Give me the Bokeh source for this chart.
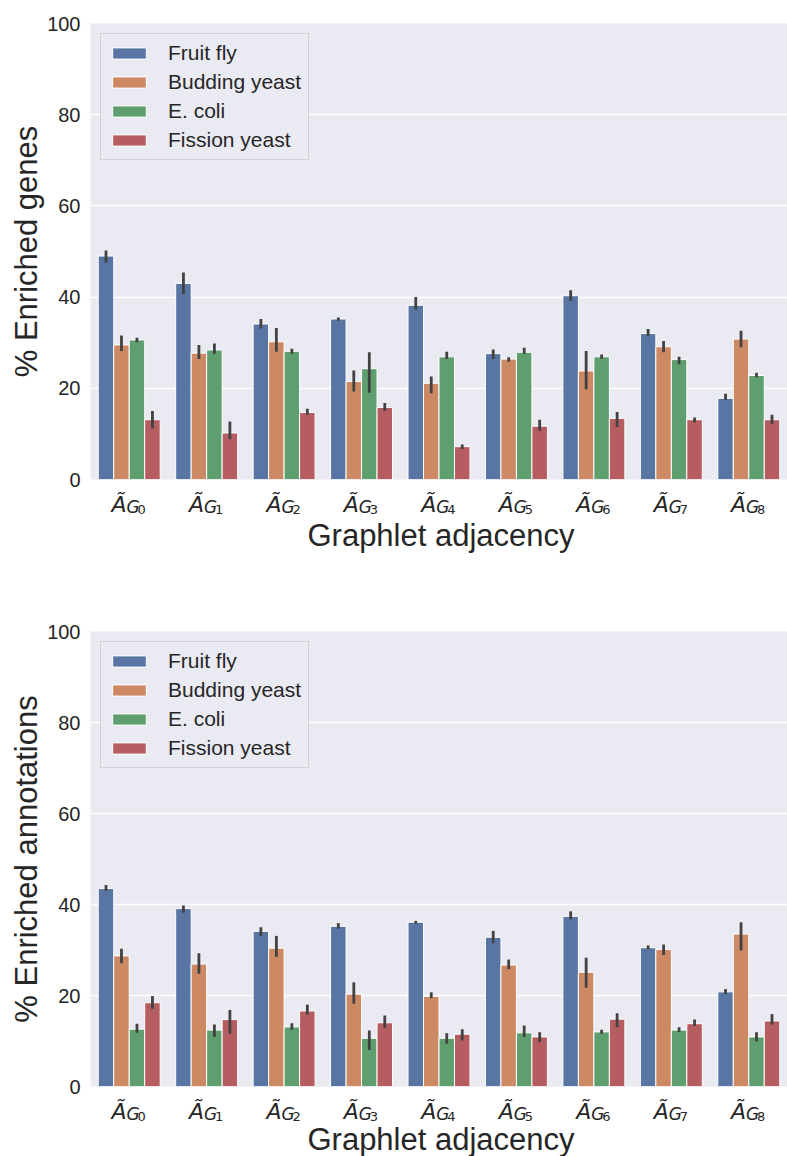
from bokeh.plotting import figure
from bokeh.models import ColumnDataSource, Range1d, Legend, LegendItem
from bokeh.core.properties import value
from bokeh.layouts import column
from bokeh.transform import dodge
from bokeh.embed import file_html
from bokeh.resources import INLINE

# ---------------- data ----------------
cat_index = [0, 1, 2, 3, 4, 5, 6, 7, 8]
subscripts = ["0", "1", "2", "3", "4", "5", "6", "7", "8"]
species = ["Fruit fly", "Budding yeast", "E. coli", "Fission yeast"]
yticks = [0, 20, 40, 60, 80, 100]
xlabel = "Graphlet adjacency"

# top panel: % enriched genes
genes_ff = [49.0, 43.0, 34.1, 35.2, 38.2, 27.6, 40.3, 32.0, 17.8]
genes_ff_lo = [47.6, 40.6, 33.1, 34.8, 37.2, 26.4, 39.2, 31.4, 17.4]
genes_ff_hi = [50.2, 45.4, 35.2, 35.5, 40.0, 28.5, 41.5, 33.0, 18.8]
genes_by = [29.5, 27.7, 30.2, 21.5, 21.1, 26.4, 23.8, 29.1, 30.8]
genes_by_lo = [28.2, 26.4, 28.0, 19.3, 18.9, 25.8, 19.8, 27.9, 29.0]
genes_by_hi = [31.6, 29.5, 33.2, 23.9, 22.6, 26.8, 28.2, 30.4, 32.6]
genes_ec = [30.6, 28.4, 28.1, 24.3, 26.9, 27.9, 26.9, 26.3, 22.8]
genes_ec_lo = [30.1, 27.6, 27.6, 19.0, 26.4, 27.5, 26.5, 25.3, 22.4]
genes_ec_hi = [31.1, 29.8, 28.7, 27.9, 28.0, 28.9, 27.4, 26.9, 23.4]
genes_fs = [13.1, 10.2, 14.7, 15.8, 7.2, 11.7, 13.4, 13.1, 13.1]
genes_fs_lo = [11.2, 8.8, 14.2, 15.0, 6.7, 10.7, 11.5, 12.5, 12.2]
genes_fs_hi = [15.0, 12.7, 15.5, 16.8, 7.7, 13.1, 14.8, 13.6, 14.2]

# bottom panel: % enriched annotations
annot_ff = [43.5, 39.1, 34.1, 35.2, 36.1, 32.8, 37.4, 30.5, 20.8]
annot_ff_lo = [43.0, 38.2, 33.1, 34.7, 35.8, 31.5, 36.7, 30.2, 20.3]
annot_ff_hi = [44.3, 39.8, 35.0, 35.9, 36.4, 34.2, 38.5, 31.0, 21.4]
annot_by = [28.7, 26.9, 30.4, 20.3, 19.8, 26.7, 25.1, 30.1, 33.5]
annot_by_lo = [27.1, 24.8, 28.5, 18.2, 19.4, 25.8, 21.7, 28.9, 29.9]
annot_by_hi = [30.3, 29.3, 33.1, 22.9, 20.7, 27.9, 28.3, 31.2, 36.1]
annot_ec = [12.6, 12.4, 13.1, 10.6, 10.6, 11.8, 12.0, 12.4, 10.9]
annot_ec_lo = [11.8, 10.9, 12.5, 8.0, 9.4, 10.9, 11.6, 12.0, 9.9]
annot_ec_hi = [13.8, 13.6, 13.9, 12.3, 11.7, 13.4, 12.5, 13.0, 11.9]
annot_fs = [18.4, 14.7, 16.6, 14.0, 11.5, 10.9, 14.8, 13.8, 14.4]
annot_fs_lo = [17.1, 11.6, 15.8, 12.9, 10.1, 9.8, 13.0, 13.3, 13.6]
annot_fs_hi = [19.9, 16.8, 18.0, 15.6, 12.6, 11.9, 16.1, 14.7, 15.9]

# ---------------- style ----------------
colors = ["#5975A4", "#CC8963", "#5F9E6E", "#B55D60"]
offsets = [-0.3, -0.1, 0.1, 0.3]
TEXT = "#262626"
SANS = "Liberation Sans"
MATH = "DejaVu Sans"
W = 787
LEFT = 90
BOTTOM = 12


def panel(vals, los, his, ylabel, height, top_b):
    p = figure(width=W, height=height,
               x_range=Range1d(-0.5, 8.5), y_range=Range1d(0, 100),
               output_backend="svg", toolbar_location=None,
               min_border_left=LEFT, min_border_right=0,
               min_border_top=top_b, min_border_bottom=BOTTOM)
    p.title.visible = False
    p.background_fill_color = "#EAEAF2"
    p.border_fill_color = "white"
    p.outline_line_color = None

    p.xaxis.visible = False
    p.xgrid.visible = False
    p.ygrid.grid_line_color = "white"
    p.ygrid.grid_line_width = 1.5

    ax = p.yaxis[0]
    ax.ticker = yticks
    ax.axis_line_color = None
    ax.major_tick_line_color = None
    ax.minor_tick_line_color = None
    ax.major_tick_out = 0
    ax.major_tick_in = 0
    ax.major_label_text_font = SANS
    ax.major_label_text_font_size = "20px"
    ax.major_label_text_color = TEXT
    ax.major_label_standoff = 10
    ax.axis_label = ylabel
    ax.axis_label_text_font = SANS
    ax.axis_label_text_font_size = "31px"
    ax.axis_label_text_font_style = "normal"
    ax.axis_label_text_color = TEXT
    ax.axis_label_standoff = 0

    items = []
    for j in range(4):
        src = ColumnDataSource(dict(x=cat_index, top=vals[j], lo=los[j], hi=his[j]))
        r = p.vbar(x=dodge("x", offsets[j]), top="top", width=0.2, source=src,
                   fill_color=colors[j], line_color="white", line_width=1)
        p.segment(x0=dodge("x", offsets[j]), y0="lo", x1=dodge("x", offsets[j]), y1="hi",
                  source=src, line_color="#424242", line_width=2.8)
        items.append(LegendItem(label=species[j], renderers=[r]))

    leg = Legend(items=items, location="top_left", margin=10, padding=7,
                 spacing=5, glyph_width=42, glyph_height=14, label_height=22,
                 label_standoff=18, label_text_font=SANS, label_text_font_size="21px",
                 label_text_color=TEXT, background_fill_color="#EAEAF2",
                 background_fill_alpha=0.8, border_line_color="#CCCCCC",
                 border_line_width=1, border_line_alpha=0.8)
    p.add_layout(leg)
    return p


def strip(p, height, tick_base, title_base):
    # strip below the panel carrying the category labels and the x axis title
    s = figure(width=W, height=height, x_range=p.x_range, y_range=Range1d(height, 0),
               output_backend="svg", toolbar_location=None,
               min_border_left=LEFT, min_border_right=0,
               min_border_top=0, min_border_bottom=0)
    s.title.visible = False
    s.axis.visible = False
    s.grid.visible = False
    s.outline_line_color = None
    s.background_fill_color = "white"
    s.border_fill_color = "white"
    n = len(cat_index)
    s.text(x=cat_index, y=[tick_base] * n, text=["\u00c3"] * n, x_offset=-17.7,
           text_font=value(MATH), text_font_style="italic", text_font_size=value("22px"),
           text_align="left", text_baseline="alphabetic", text_color=TEXT)
    s.text(x=cat_index, y=[tick_base + 2] * n, text=["G"] * n, x_offset=-2.7,
           text_font=value(MATH), text_font_style="italic", text_font_size=value("17px"),
           text_align="left", text_baseline="alphabetic", text_color=TEXT)
    s.text(x=cat_index, y=[tick_base + 4.5] * n, text=subscripts, x_offset=8.3,
           text_font=value(MATH), text_font_size=value("13px"),
           text_align="left", text_baseline="alphabetic", text_color=TEXT)
    s.text(x=[4], y=[title_base], text=[xlabel], x_offset=2,
           text_font=value(SANS), text_font_size=value("31px"),
           text_align="center", text_baseline="alphabetic", text_color=TEXT)
    return s


h1 = 23 + 456 + BOTTOM
p1 = panel([genes_ff, genes_by, genes_ec, genes_fs],
           [genes_ff_lo, genes_by_lo, genes_ec_lo, genes_fs_lo],
           [genes_ff_hi, genes_by_hi, genes_ec_hi, genes_fs_hi],
           "% Enriched genes", h1, 23)
s1 = strip(p1, 590 - h1, 13, 44)
h2 = 41 + 455 + BOTTOM
p2 = panel([annot_ff, annot_by, annot_ec, annot_fs],
           [annot_ff_lo, annot_by_lo, annot_ec_lo, annot_fs_lo],
           [annot_ff_hi, annot_by_hi, annot_ec_hi, annot_fs_hi],
           "% Enriched annotations", h2, 41)
s2 = strip(p2, 1156 - 590 - h2, 13, 41)

layout = column(p1, s1, p2, s2, spacing=0)
open("out.html", "w").write(file_html(layout, INLINE))
